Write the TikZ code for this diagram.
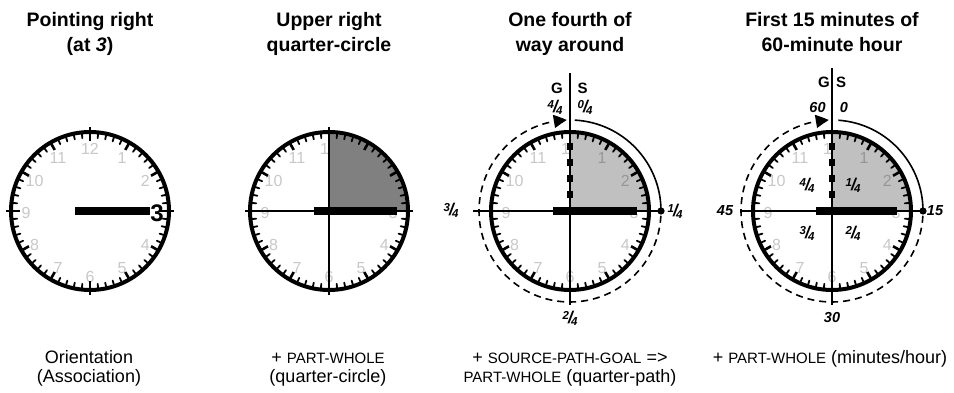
\documentclass[tikz,border=0pt]{standalone}
\usepackage{fontspec}
\setmainfont{Liberation Sans}
\usetikzlibrary{arrows.meta,bending}

\definecolor{numgray}{RGB}{200,200,200}
\definecolor{numdark}{RGB}{150,150,150}
\definecolor{darkfill}{RGB}{128,128,128}
\definecolor{lightfill}{RGB}{192,192,192}

\newcommand\fr[2]{\raisebox{4pt}{\fontsize{11.5}{11.5}\selectfont #1}\kern-0.8pt{\fontsize{17}{17}\selectfont /}\kern-1.8pt\raisebox{-1.8pt}{\fontsize{11.5}{11.5}\selectfont #2}}
\newcommand\fsc[1]{{\fontsize{15}{15}\selectfont #1}}

\tikzset{
  facenum/.style={text=numgray, font=\fontsize{16}{16}\selectfont, inner sep=0pt},
  minortick/.style={line width=1.8pt, line cap=round},
  hourtick/.style={line width=2.6pt},
  quartertick/.style={line width=2.8pt},
  rim/.style={line width=4pt},
  crossline/.style={line width=1.8pt},
  handbar/.style={line width=7.5pt},
  titleline/.style={font=\fontsize{19.5}{24}\selectfont\bfseries, anchor=base, inner sep=0pt},
  capline/.style={font=\fontsize{18}{21}\selectfont, anchor=base, inner sep=0pt},
  gslabel/.style={font=\fontsize{15}{15}\selectfont\bfseries, inner sep=0pt},
  fraclabel/.style={font=\fontsize{14.5}{14.5}\selectfont\bfseries\itshape, inner sep=0pt},
  outerpath/.style={line width=1.6pt},
  dashedpath/.style={line width=1.6pt, dash pattern=on 7pt off 5pt},
  squaredash/.style={line width=6pt, dash pattern=on 7pt off 9pt},
}

\newcommand\clockface[1]{%
  \fill[white] (0,0) circle (79pt);
  \foreach \h in {#1} \node[facenum] (num\h) at ({64*cos(90-30*\h)},{64*sin(90-30*\h)-2}) {\h};
}
\newcommand\clockrim{%
  \foreach \m in {0,...,59} \draw[minortick] ({6*\m}:73.2pt) -- ({6*\m}:78pt);
  \foreach \h in {1,2,4,5,7,8,10,11} \draw[hourtick] ({90-30*\h}:70.5pt) -- ({90-30*\h}:79pt);
  \foreach \a in {0,90,180,270} \draw[quartertick] (\a:70pt) -- (\a:84pt);
  \draw[rim] (0,0) circle (79pt);
}
\newcommand\quarterfill[1]{%
  \fill[#1] (0,0) -- (90:77pt) arc[start angle=90, end angle=0, radius=77pt] -- cycle;
}

\begin{document}
\begin{tikzpicture}[x=1pt,y=1pt]
\useasboundingbox (0,0) rectangle (954,392);

% ---------- titles ----------
\node[titleline] (t1a) at (90,365.3) {Pointing right};
\node[titleline] (t1b) at (90,340.5) {(at \textit{3})};
\node[titleline] (t2a) at (329,365.3) {Upper right};
\node[titleline] (t2b) at (329,340.5) {quarter-circle};
\node[titleline] (t3a) at (570,365.3) {One fourth of};
\node[titleline] (t3b) at (570,340.5) {way around};
\node[titleline] (t4a) at (832,365.3) {First 15 minutes of};
\node[titleline] (t4b) at (832,340.5) {60-minute hour};

% ---------- captions ----------
\node[capline] (c1a) at (89,29) {Orientation};
\node[capline] (c1b) at (89,9.3) {(Association)};
\node[capline] (c2a) at (328,29) {+ \fsc{PART-WHOLE}};
\node[capline] (c2b) at (328,9.3) {(quarter-circle)};
\node[capline] (c3a) at (570,29) {+ \fsc{SOURCE-PATH-GOAL} =>};
\node[capline] (c3b) at (570,9.3) {\fsc{PART-WHOLE} (quarter-path)};
\node[capline] (c4a) at (830,29) {+ \fsc{PART-WHOLE} (minutes/hour)};

% ---------- clock 1 ----------
\begin{scope}[shift={(90,181)}, name prefix=A-]
  \coordinate (center) at (0,0);
  \clockface{1,2,4,5,6,7,8,9,10,11,12}
  \clockrim
  \draw[handbar] (-15,0) -- (60,0);
  \node[font=\fontsize{24}{24}\selectfont\bfseries, inner sep=0pt] (three) at (67,-2) {3};
\end{scope}

% ---------- clock 2 ----------
\begin{scope}[shift={(329,181)}, name prefix=B-]
  \coordinate (center) at (0,0);
  \clockface{1,2,3,4,5,6,7,8,9,10,11,12}
  \quarterfill{darkfill}
  \clockrim
  \draw[crossline] (-80,0) -- (80,0);
  \draw[crossline] (0,80) -- (0,-80);
  \draw[handbar, line width=8pt] (-15,0) -- (68,0);
\end{scope}

% ---------- clock 3 ----------
\begin{scope}[shift={(570,181)}, name prefix=C-]
  \coordinate (center) at (0,0);
  \clockface{1,2,3,4,5,6,7,8,9,10,11,12}
  \quarterfill{lightfill}
  \foreach \h in {1,2} \node[facenum, text=numdark] (dk\h) at ({64*cos(90-30*\h)},{64*sin(90-30*\h)-2}) {\h};
  \clockrim
  \draw[dashedpath, -{Triangle[length=13pt,width=13pt,bend]}] (-3:91pt) arc[start angle=-3, end angle=-268, radius=91pt];
  \draw[outerpath] (87:91pt) arc[start angle=87, end angle=0, radius=91pt];
  \coordinate (L) at (-97,0);
  \coordinate (R) at (0:91pt);
  \coordinate (T) at (0,138);
  \coordinate (B) at (0,-94);
  \draw[crossline] (L) -- (R);
  \draw[crossline] (T) -- (B);
  \draw[squaredash] (0,68) -- (0,13);
  \draw[handbar] (-17,0) -- (67,0);
  \fill (R) circle (3.6pt);
  \node[gslabel] (G) at (-13,123) {G};
  \node[gslabel] (S) at (12.5,123) {S};
  \node[fraclabel] (f44) at (-15,104) {\fr{4}{4}};
  \node[fraclabel] (f04) at (15,104) {\fr{0}{4}};
  \node[fraclabel] (f34) at (-119,1) {\fr{3}{4}};
  \node[fraclabel] (f14) at (105,0) {\fr{1}{4}};
  \node[fraclabel] (f24) at (0,-107) {\fr{2}{4}};
\end{scope}

% ---------- clock 4 ----------
\begin{scope}[shift={(832,181)}, name prefix=D-]
  \coordinate (center) at (0,0);
  \clockface{1,2,3,4,5,6,7,8,9,10,11,12}
  \quarterfill{lightfill}
  \foreach \h in {1,2} \node[facenum, text=numdark] (dk\h) at ({64*cos(90-30*\h)},{64*sin(90-30*\h)-2}) {\h};
  \clockrim
  \draw[dashedpath, -{Triangle[length=13pt,width=13pt,bend]}] (-3:91pt) arc[start angle=-3, end angle=-268, radius=91pt];
  \draw[outerpath] (86:91pt) arc[start angle=86, end angle=0, radius=91pt];
  \coordinate (L) at (-92,0);
  \coordinate (R) at (0:91pt);
  \coordinate (T) at (0,143);
  \coordinate (B) at (0,-94);
  \draw[crossline] (L) -- (R);
  \draw[crossline] (T) -- (B);
  \draw[squaredash] (0,68) -- (0,13);
  \draw[handbar] (-16,0) -- (65,0);
  \fill (R) circle (3.6pt);
  \node[gslabel] (G) at (-8,129) {G};
  \node[gslabel] (S) at (9,129) {S};
  \node[fraclabel] (m60) at (-14.5,103) {60};
  \node[fraclabel] (m0) at (12,103) {0};
  \node[fraclabel] (m45) at (-107,0) {45};
  \node[fraclabel] (m15) at (103,0) {15};
  \node[fraclabel] (m30) at (0,-107) {30};
  \node[fraclabel] (q4) at (-25,26) {\fr{4}{4}};
  \node[fraclabel] (q1) at (21,26) {\fr{1}{4}};
  \node[fraclabel] (q3) at (-25,-22) {\fr{3}{4}};
  \node[fraclabel] (q2) at (21,-22) {\fr{2}{4}};
\end{scope}
\end{tikzpicture}
\end{document}
